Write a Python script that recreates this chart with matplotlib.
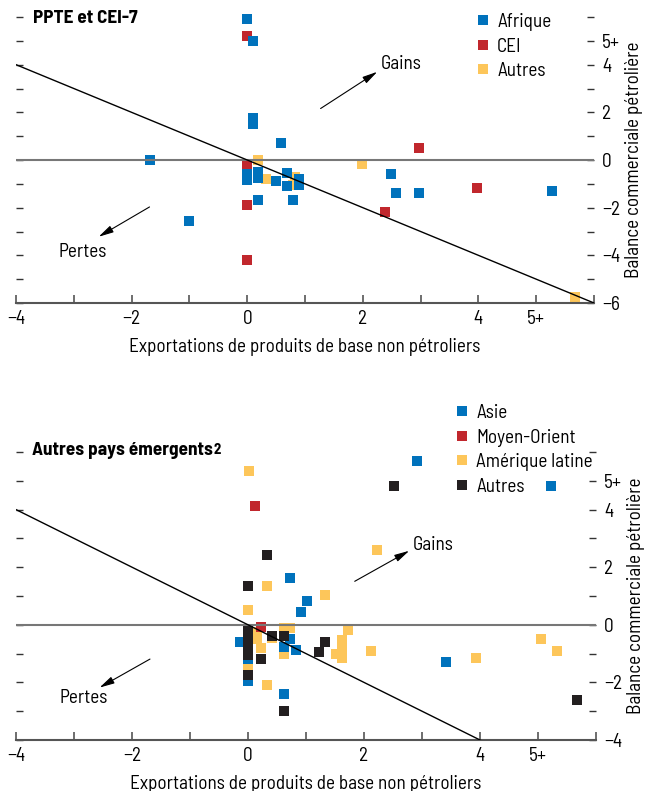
import matplotlib
matplotlib.use('Agg')
import matplotlib.pyplot as plt
from matplotlib.lines import Line2D

plt.rcParams['font.family'] = ['Barlow Semi Condensed', 'Barlow Condensed', 'Liberation Sans', 'DejaVu Sans']
plt.rcParams['axes.unicode_minus'] = True

# Top panel: PPTE et CEI-7
top_afrique_x = [0, 0.1, 0.1, 0.1, 0.59, -1.69, 0, 0, 0.19, 0.19, 0.49, 0.68, 0.68, 0.9, 0.9, 0.19, 0.79, -1.0, 2.48, 2.58, 2.98, 5.27]
top_afrique_y = [5.9, 5.0, 1.75, 1.5, 0.72, 0.0, -0.6, -0.85, -0.5, -0.75, -0.88, -0.56, -1.07, -0.8, -1.05, -1.67, -1.67, -2.58, -0.57, -1.37, -1.37, -1.3]
top_cei_x = [0, 0, 0, 0, 2.98, 3.98, 2.39]
top_cei_y = [5.2, -0.18, -1.88, -4.18, 0.5, -1.16, -2.18]
top_autres_x = [0.19, 0.32, 0.82, 0.8, 1.98, 5.67]
top_autres_y = [0.02, -0.8, -0.7, -1.05, -0.18, -5.75]

# Bottom panel: Autres pays emergents
bot_asie_x = [2.91, 5.22, 0.72, 1.01, 0.91, -0.13, 0.72, 0.62, 0.82, 0, 0, 0.62, 3.41]
bot_asie_y = [5.7, 4.81, 1.61, 0.81, 0.43, -0.58, -0.49, -0.77, -0.89, -1.2, -1.95, -2.4, -1.28]
bot_mo_x = [0.12, 0.22]
bot_mo_y = [4.12, -0.08]
bot_al_x = [0.01, 0.32, 1.33, 0, 2.22, 0.15, 0.15, 0.22, 0.41, 0.32, 0.62, 0.72, 0.62, 1.72, 1.62, 1.62, 1.52, 1.62, 2.12, 3.93, 5.06, 5.32, 0]
bot_al_y = [5.33, 1.33, 1.02, 0.52, 2.61, -0.25, -0.5, -0.81, -0.45, -2.09, -0.12, -0.1, -1.01, -0.17, -0.52, -0.81, -1.01, -1.16, -0.9, -1.17, -0.49, -0.9, -1.45]
bot_autres_x = [2.51, 0.32, 0, 0, 0, 0, 0, 0, 0.22, 0.41, 0.62, 0.62, 1.33, 1.22, 5.67]
bot_autres_y = [4.81, 2.41, 1.33, -0.15, -0.45, -0.75, -1.05, -1.74, -1.18, -0.38, -0.38, -2.98, -0.58, -0.95, -2.61]

xticks = [-4, -2, 0, 2, 4, 5]
xticklabels = ['\u22124', '\u22122', '0', '2', '4', '5+']
top_yticks = [-6, -4, -2, 0, 2, 4, 5]
top_yticklabels = ['\u22126', '\u22124', '\u22122', '0', '2', '4', '5+']
bot_yticks = [-4, -2, 0, 2, 4, 5]
bot_yticklabels = ['\u22124', '\u22122', '0', '2', '4', '5+']

BLUE = '#0072bc'
RED = '#c1272d'
YELLOW = '#fdc65a'
BLACK = '#231f20'
FS = 13.8
MS = 7.4

fig = plt.figure(figsize=(6.55, 7.91), dpi=100)
ax1 = fig.add_axes([16/655, 1 - 303/791, 578/655, 286/791])
ax2 = fig.add_axes([16/655, 1 - 740/791, 580/655, 288/791])


def style_axes(ax, ymin, yticks, yticklabels):
    ax.set_xlim(-4, 6)
    ax.set_ylim(ymin, 6)
    for s in ['top', 'left', 'right']:
        ax.spines[s].set_visible(False)
    ax.spines['bottom'].set_color('#555555')
    ax.spines['bottom'].set_linewidth(1.5)
    ax.set_xticks(range(-4, 7), minor=False)
    ax.set_xticklabels([xticklabels[xticks.index(t)] if t in xticks else '' for t in range(-4, 7)])
    ax.set_yticks(range(ymin, 7))
    ax.set_yticklabels([yticklabels[yticks.index(t)] if t in yticks else '' for t in range(ymin, 7)])
    ax.tick_params(axis='x', direction='in', length=6, width=1.2, color='#555555',
                   labelsize=FS, pad=5)
    ax.tick_params(axis='y', direction='in', length=5, width=1, color='#333333',
                   left=True, right=True, labelleft=False, labelright=True,
                   labelsize=FS, pad=6)
    ax.axhline(0, color='#777777', lw=1.5, zorder=4)
    ax.plot([-4, 6], [4, -6], color='black', lw=1, zorder=5)
    ax.set_xlabel('Exportations de produits de base non p\u00e9troliers', fontsize=FS, labelpad=7)
    ax.yaxis.set_label_position('right')
    ax.set_ylabel('Balance commerciale p\u00e9troli\u00e8re', fontsize=FS, labelpad=3)


style_axes(ax1, -6, top_yticks, top_yticklabels)
style_axes(ax2, -4, bot_yticks, bot_yticklabels)

# Top panel points
ax1.plot(top_autres_x, top_autres_y, 's', color=YELLOW, ms=MS, mew=0, zorder=2, clip_on=False)
ax1.plot(top_cei_x, top_cei_y, 's', color=RED, ms=MS, mew=0, zorder=2.5, clip_on=False)
ax1.plot(top_afrique_x, top_afrique_y, 's', color=BLUE, ms=MS, mew=0, zorder=3, clip_on=False)

# Bottom panel points
ax2.plot(bot_al_x, bot_al_y, 's', color=YELLOW, ms=MS, mew=0, zorder=2, clip_on=False)
ax2.plot(bot_asie_x, bot_asie_y, 's', color=BLUE, ms=MS, mew=0, zorder=2.5, clip_on=False)
ax2.plot(bot_mo_x, bot_mo_y, 's', color=RED, ms=MS, mew=0, zorder=2.7, clip_on=False)
ax2.plot(bot_autres_x, bot_autres_y, 's', color=BLACK, ms=MS, mew=0, zorder=3, clip_on=False)

arrow = dict(arrowstyle='-|>,head_length=0.9,head_width=0.22', color='black', lw=0.8,
             shrinkA=0, shrinkB=0)

# Annotations
ax1.annotate('', xy=(2.25, 3.7), xytext=(1.27, 2.16), arrowprops=arrow)
ax1.text(2.67, 4.02, 'Gains', fontsize=FS, ha='center', va='center')
ax1.annotate('', xy=(-2.57, -3.22), xytext=(-1.69, -1.97), arrowprops=arrow)
ax1.text(-2.84, -3.85, 'Pertes', fontsize=FS, ha='center', va='center')

ax2.annotate('', xy=(2.78, 2.57), xytext=(1.84, 1.51), arrowprops=arrow)
ax2.text(3.2, 2.76, 'Gains', fontsize=FS, ha='center', va='center')
ax2.annotate('', xy=(-2.56, -2.18), xytext=(-1.69, -1.19), arrowprops=arrow)
ax2.text(-2.84, -2.55, 'Pertes', fontsize=FS, ha='center', va='center')

# Panel titles
ax1.text(0.029, 5.95, 'PPTE et CEI-7', transform=ax1.get_yaxis_transform(),
         fontsize=FS, fontweight='bold', ha='left', va='center')
t2 = ax2.text(0.028, 6.05, 'Autres pays \u00e9mergents', transform=ax2.get_yaxis_transform(),
              fontsize=FS, fontweight='bold', ha='left', va='center')
ax2.annotate('2', xy=(1, 1), xycoords=t2, xytext=(0.5, -1), textcoords='offset points',
             fontsize=10.5, fontweight='bold', ha='left', va='top')

# Legends
def handles(colors, labels):
    return [Line2D([], [], marker='s', ls='none', color=c, ms=MS, mew=0, label=l)
            for c, l in zip(colors, labels)]

fig.legend(handles=handles([BLUE, RED, YELLOW], ['Afrique', 'CEI', 'Autres']),
           loc='upper left', bbox_to_anchor=(477/655, 1 - 13/791), frameon=False,
           fontsize=FS, handlelength=0.6, handletextpad=0.45, labelspacing=0.34,
           borderpad=0, borderaxespad=0)
fig.legend(handles=handles([BLUE, RED, YELLOW, BLACK],
                           ['Asie', 'Moyen-Orient', 'Am\u00e9rique latine', 'Autres']),
           loc='upper left', bbox_to_anchor=(456/655, 1 - 404/791), frameon=False,
           fontsize=FS, handlelength=0.6, handletextpad=0.45, labelspacing=0.34,
           borderpad=0, borderaxespad=0)

fig.savefig('out.png', dpi=100)
